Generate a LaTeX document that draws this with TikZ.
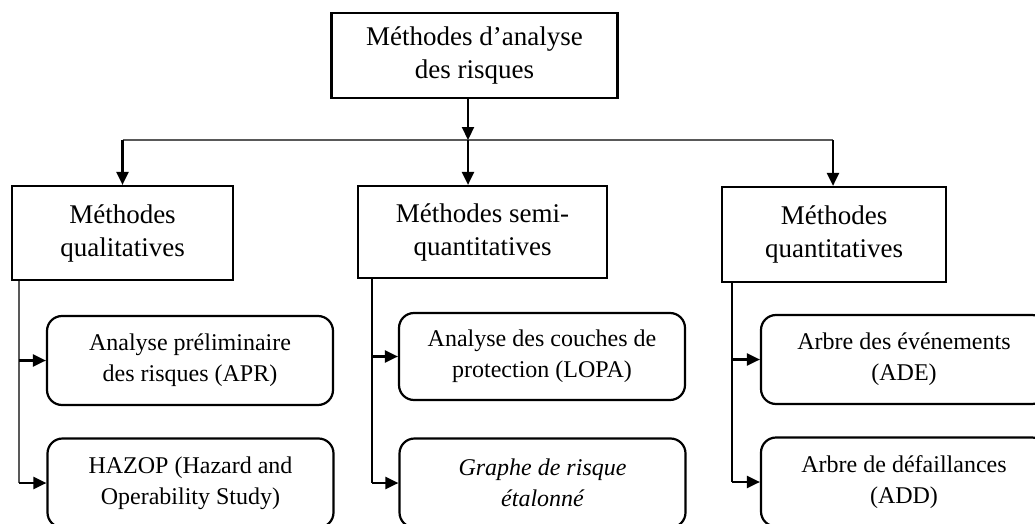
\documentclass[tikz,border=0pt]{standalone}
\usepackage{fontspec}
\setmainfont{Liberation Serif}
\usetikzlibrary{arrows.meta}

\tikzset{
  mainbox/.style={draw=black, line width=2.2pt, fill=white, inner sep=0pt, align=center,
    font=\fontsize{27}{33}\selectfont},
  leafbox/.style={draw=black, line width=2.2pt, fill=white, inner sep=0pt, align=center,
    rounded corners=15pt, minimum width=286pt, minimum height=89pt,
    font=\fontsize{24}{31}\selectfont},
  feed/.style={line width=2.2pt, -{Triangle[length=13pt,width=12pt]}},
  spine/.style={line width=1.3pt},
}

\begin{document}
\begin{tikzpicture}[x=1pt,y=1pt]
  \useasboundingbox (0,0) rectangle (1035,-524);
  \clip (0,0) rectangle (1035,-524);
  \fill[white] (0,0) rectangle (1035,-524);

  % root
  \node[mainbox, minimum width=286pt, minimum height=85pt] (root) at (474.5,-55.5)
    {Méthodes d’analyse\\des risques};

  % three families
  \node[mainbox, minimum width=221pt, minimum height=94pt] (qual) at (122.5,-233)
    {Méthodes\\qualitatives};
  \node[mainbox, minimum width=249pt, minimum height=92pt] (semi) at (482.5,-232)
    {Méthodes semi-\\quantitatives};
  \node[mainbox, minimum width=224pt, minimum height=95pt] (quant) at (834,-234.5)
    {Méthodes\\quantitatives};

  % methods
  \node[leafbox] (apr) at (190,-360.5) {Analyse préliminaire\\des risques (APR)};
  \node[leafbox] (hazop) at (190.5,-483) {HAZOP (Hazard and\\Operability Study)};
  \node[leafbox, minimum height=87pt] (lopa) at (542,-356.5) {Analyse des couches de\\protection (LOPA)};
  \node[leafbox] (graphe) at (542.5,-483) {\itshape Graphe de risque\\\itshape étalonné};
  \node[leafbox] (ade) at (904,-359.5) {Arbre des événements\\(ADE)};
  \node[leafbox] (add) at (904,-482) {Arbre de défaillances\\(ADD)};

  % distribution bar
  \coordinate (bus) at (468,-140);
  \coordinate (busL) at (122.5,-140);
  \coordinate (busR) at (833,-140);
  \draw[spine, draw=black!65] (busL) -- (busR);
  \draw[feed] (root.south -| bus) -- (bus);
  \draw[feed] (busL) -- (qual.north -| busL);
  \draw[feed] (bus) -- (semi.north -| bus);
  \draw[feed] (busR) -- (quant.north -| busR);

  % branch spines
  \coordinate (sL) at (19,0);
  \coordinate (sM) at (372,0);
  \coordinate (sR) at (732,0);
  \draw[spine, draw=black!65] (qual.south -| sL) -- (hazop.west -| sL);
  \draw[spine] (semi.south -| sM) -- (graphe.west -| sM);
  \draw[spine] (quant.south -| sR) -- (add.west -| sR);

  \draw[feed] (apr.west -| sL) -- (apr.west);
  \draw[feed] (hazop.west -| sL) -- (hazop.west);
  \draw[feed] (lopa.west -| sM) -- (lopa.west);
  \draw[feed] (graphe.west -| sM) -- (graphe.west);
  \draw[feed] (ade.west -| sR) -- (ade.west);
  \draw[feed] (add.west -| sR) -- (add.west);
\end{tikzpicture}
\end{document}
